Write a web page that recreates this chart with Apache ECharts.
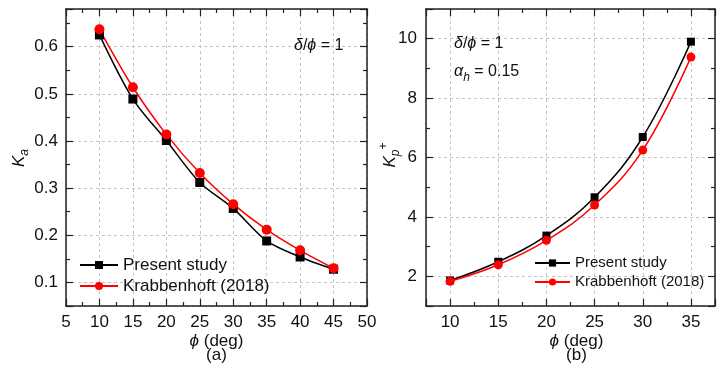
<!DOCTYPE html>
<html>
<head>
<meta charset="utf-8">
<script src="https://cdn.jsdelivr.net/npm/echarts@6/dist/echarts.min.js"></script>
<style>
html,body{margin:0;padding:0;background:#fff;}
#chart{width:718px;height:367px;}
</style>
</head>
<body>
<div id="chart"></div>
<script>
// ---- data ----
const phiA = [10, 15, 20, 25, 30, 35, 40, 45];
const kaPresent = [0.625, 0.489, 0.401, 0.312, 0.257, 0.188, 0.154, 0.128];
const kaKrab = [0.637, 0.514, 0.414, 0.332, 0.266, 0.212, 0.168, 0.130];
const phiB = [10, 15, 20, 25, 30, 35];
const kpPresent = [1.86, 2.49, 3.37, 4.66, 6.69, 9.90];
const kpKrab = [1.83, 2.39, 3.21, 4.40, 6.25, 9.38];
const seriesNames = ['Present study', 'Krabbenhoft (2018)'];
const xTicksA = [5, 10, 15, 20, 25, 30, 35, 40, 45, 50];
const yTicksA = [0.1, 0.2, 0.3, 0.4, 0.5, 0.6];
const xTicksB = [10, 15, 20, 25, 30, 35];
const yTicksB = [2, 4, 6, 8, 10];

const FONT = '"Liberation Sans", Arial, sans-serif';
const AX = '#222';

function pairs(xs, ys) { return xs.map((x, i) => [x, ys[i]]); }
function fmt(list, dec) {
  return function (v) {
    for (const t of list) if (Math.abs(t - v) < 1e-6) return dec ? t.toFixed(dec) : String(t);
    return '';
  };
}

function mainAxis(grid, pos, min, max, ticks, dec, extra) {
  return Object.assign({
    type: 'value', gridIndex: grid, position: pos, min: min, max: max,
    axisLine: { show: true, onZero: false, lineStyle: { color: AX, width: 1.5 } },
    axisTick: { show: true, inside: true, length: 7, lineStyle: { color: AX, width: 1.2 } },
    minorTick: { show: true, splitNumber: 2, length: 4, lineStyle: { color: AX, width: 1.2 } },
    splitLine: { show: true, lineStyle: { color: '#c4c4c4', width: 1, type: [3, 3] } },
    axisLabel: { show: true, fontFamily: FONT, fontSize: 17, color: '#111', margin: 8,
      showMinLabel: true, showMaxLabel: true, formatter: fmt(ticks, dec) }
  }, extra || {});
}
function mirrorAxis(grid, pos, min, max, extra) {
  return Object.assign({
    type: 'value', gridIndex: grid, position: pos, min: min, max: max,
    axisLine: { show: true, onZero: false, lineStyle: { color: AX, width: 1.5 } },
    axisTick: { show: true, inside: true, length: 7, lineStyle: { color: AX, width: 1.2 } },
    minorTick: { show: true, splitNumber: 2, length: 4, lineStyle: { color: AX, width: 1.2 } },
    splitLine: { show: false },
    axisLabel: { show: false }
  }, extra || {});
}

const chart = echarts.init(document.getElementById('chart'), null, { renderer: 'canvas' });

const txt = (x, y, rich, parts, extra) => Object.assign({
  type: 'text', x: x, y: y, z: 100,
  style: { text: parts, rich: rich, fontFamily: FONT, fontSize: 17, fill: '#111',
    align: 'center', verticalAlign: 'middle' }
}, extra || {});

const richCommon = {
  n: { fontFamily: FONT, fontSize: 17, lineHeight: 24, verticalAlign: 'middle', fill: '#111' },
  i: { fontFamily: FONT, fontSize: 17, fontStyle: 'italic', lineHeight: 24, verticalAlign: 'middle', fill: '#111' },
  n16: { fontFamily: FONT, fontSize: 16, lineHeight: 24, verticalAlign: 'middle', fill: '#111' },
  i16: { fontFamily: FONT, fontSize: 16, fontStyle: 'italic', lineHeight: 24, verticalAlign: 'middle', fill: '#111' },
  sub: { fontFamily: FONT, fontSize: 12, fontStyle: 'italic', lineHeight: 15, verticalAlign: 'bottom', fill: '#111' },
  sup: { fontFamily: FONT, fontSize: 12, lineHeight: 13, verticalAlign: 'top', fill: '#111' }
};

const option = {
  backgroundColor: '#fff',
  animation: false,
  grid: [
    { left: 66, top: 9, width: 301, bottom: 61, containLabel: false },
    { left: 426, top: 9, width: 301, bottom: 61, containLabel: false }
  ],
  xAxis: [
    mainAxis(0, 'bottom', 5, 50, xTicksA, 0, { interval: 5 }),
    mirrorAxis(0, 'top', 5, 50, { interval: 5 }),
    mainAxis(1, 'bottom', 7.5, 37.5, xTicksB, 0, { splitNumber: 6 }),
    mirrorAxis(1, 'top', 7.5, 37.5, { splitNumber: 6 })
  ],
  yAxis: [
    mainAxis(0, 'left', 0.05, 0.68, yTicksA, 1, { splitNumber: 6 }),
    mirrorAxis(0, 'right', 0.05, 0.68, { splitNumber: 6 }),
    mainAxis(1, 'left', 1, 11, yTicksB, 0, { splitNumber: 5, axisLabel: { show: true, fontFamily: FONT, fontSize: 17, color: '#111', margin: 9, formatter: fmt(yTicksB, 0) } }),
    mirrorAxis(1, 'right', 1, 11, { splitNumber: 5 })
  ],
  legend: [
    { orient: 'vertical', left: 79, top: 255, padding: 0, itemWidth: 38, itemHeight: 10, itemGap: 1,
      textStyle: { fontFamily: FONT, fontSize: 17, lineHeight: 20, color: '#111' },
      data: seriesNames, selectedMode: false },
    { orient: 'vertical', left: 534, top: 254, padding: 0, itemWidth: 35, itemHeight: 9, itemGap: 1,
      textStyle: { fontFamily: FONT, fontSize: 15, lineHeight: 18, color: '#111' },
      data: seriesNames, selectedMode: false }
  ],
  series: [
    { name: seriesNames[0], type: 'line', xAxisIndex: 0, yAxisIndex: 0, data: pairs(phiA, kaPresent),
      smooth: 0.3, symbol: 'rect', symbolSize: 9, color: '#000',
      lineStyle: { color: '#000', width: 1.5 }, itemStyle: { color: '#000' } },
    { name: seriesNames[1], type: 'line', xAxisIndex: 0, yAxisIndex: 0, data: pairs(phiA, kaKrab),
      smooth: 0.3, symbol: 'circle', symbolSize: 10, color: '#ff0000',
      lineStyle: { color: '#ff0000', width: 1.5 }, itemStyle: { color: '#ff0000' } },
    { name: seriesNames[0], type: 'line', xAxisIndex: 2, yAxisIndex: 2, data: pairs(phiB, kpPresent),
      smooth: 0.4, symbol: 'rect', symbolSize: 8, color: '#000',
      lineStyle: { color: '#000', width: 1.5 }, itemStyle: { color: '#000' } },
    { name: seriesNames[1], type: 'line', xAxisIndex: 2, yAxisIndex: 2, data: pairs(phiB, kpKrab),
      smooth: 0.4, symbol: 'circle', symbolSize: 9, color: '#ff0000',
      lineStyle: { color: '#ff0000', width: 1.5 }, itemStyle: { color: '#ff0000' } }
  ],
  graphic: [
    // y titles
    txt(19, 158, richCommon, '{i|K}{sub|a}', { rotation: Math.PI / 2 }),
    txt(390, 155, richCommon, '{i|K}{sub|p}{sup|+}', { rotation: Math.PI / 2 }),
    // x titles
    txt(216.5, 341, richCommon, '{i|ϕ}{n| (deg)}'),
    txt(216.5, 355.5, richCommon, '{n|(a)}'),
    txt(576.5, 341, richCommon, '{i|ϕ}{n| (deg)}'),
    txt(576.5, 355.5, richCommon, '{n|(b)}'),
    // annotations
    txt(294, 45.5, richCommon, '', { style: { text: '{i16|δ}{n16|/}{i16|ϕ}{n16| = 1}', rich: richCommon, align: 'left', verticalAlign: 'middle' } }),
    txt(454, 44, richCommon, '', { style: { text: '{i16|δ}{n16|/}{i16|ϕ}{n16| = 1}', rich: richCommon, align: 'left', verticalAlign: 'middle' } }),
    txt(454, 72, richCommon, '', { style: { text: '{i16|α}{sub|h}{n16| = 0.15}', rich: richCommon, align: 'left', verticalAlign: 'middle' } })
  ]
};
chart.setOption(option);
</script>
</body>
</html>
